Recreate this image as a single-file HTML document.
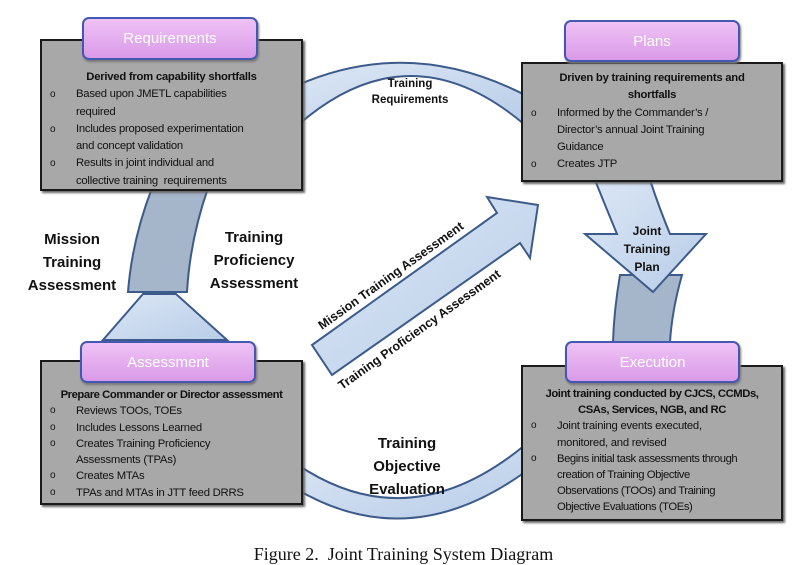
<!DOCTYPE html>
<html><head><meta charset="utf-8"><style>
body{margin:0;background:#fff;width:807px;height:564px;overflow:hidden;position:relative;font-family:"Liberation Sans",sans-serif}
.box{position:absolute;background:#a8a8a8;border:2px solid #1a1a1a;box-shadow:2px 2px 2px #666;box-sizing:border-box;color:#111;font-size:11.3px;letter-spacing:-0.25px;line-height:17.3px}
.pill{position:absolute;border:2px solid #4358b0;border-radius:7px;background:linear-gradient(#efc2f5,#d99ae8);color:#fff;font-size:15px;text-align:center;box-sizing:border-box;box-shadow:1px 2px 2px #777}
.t{font-weight:bold;text-align:center;white-space:nowrap}
.b{position:relative;padding-left:34px;white-space:nowrap}
.b:before{content:"o";position:absolute;left:8px;font-size:10px}
.lab{position:absolute;font-weight:bold;text-align:center;color:#111;white-space:nowrap}
</style></head><body>
<svg width="807" height="564" style="position:absolute;left:0;top:0">
<defs><linearGradient id="g" x1="0" y1="0" x2="1" y2="1"><stop offset="0" stop-color="#dce7f5"/><stop offset="1" stop-color="#b8cde8"/></linearGradient></defs>
<g stroke="#3d5b8a" stroke-width="2" stroke-linejoin="miter">
<path d="M298,85 Q410,36 525,95 L525,125 Q410,27 298,125 Z" fill="url(#g)"/>
<path d="M298,465 Q410,540 525,445 L525,472 Q410,555 298,490 Z" fill="url(#g)"/>
<path d="M152,188 Q132,240 128,292 L187,292 Q190,240 208,188 Z" fill="#a5b5ca"/>
<path d="M143,294 L176,294 L227,340 L103,340 Z" fill="url(#g)"/>
<path d="M620,275 L682,275 Q672,310 670,342 L613,342 Q614,310 620,275 Z" fill="#a5b5ca"/>
<path d="M595,180 L650,180 Q660,210 670,234 L706,234 L653,292 L585,234 L617,234 Q605,205 595,180 Z" fill="url(#g)"/>
<path d="M312,345 L497,213 L487,197 L538,205 L530,258 L520,243 L332,375 Z" fill="url(#g)"/>
</g>
<g font-family="Liberation Sans" font-weight="bold" font-size="12.5" fill="#111">
<text transform="translate(322,330) rotate(-35.6)">Mission Training Assessment</text>
<text transform="translate(342,390) rotate(-35.6)">Training Proficiency Assessment</text>
</g>
</svg>
<div class="box" style="left:40px;top:39px;width:263px;height:152px;padding-top:28px">
<div class="t">Derived from capability shortfalls</div>
<div class="b">Based upon JMETL capabilities<br>required</div>
<div class="b">Includes proposed experimentation<br>and concept validation</div>
<div class="b">Results in joint individual and<br>collective training&nbsp; requirements</div>
</div>
<div class="pill" style="left:82px;top:17px;width:176px;height:43px;line-height:40px">Requirements</div>
<div class="box" style="left:521px;top:62px;width:262px;height:120px;padding-top:6px">
<div class="t">Driven by training requirements and<br>shortfalls</div>
<div class="b">Informed by the Commander’s /<br>Director’s annual Joint Training<br>Guidance</div>
<div class="b">Creates JTP</div>
</div>
<div class="pill" style="left:564px;top:20px;width:176px;height:42px;line-height:39px">Plans</div>
<div class="box" style="left:40px;top:360px;width:263px;height:145px;padding-top:25px;line-height:16.3px">
<div class="t" style="letter-spacing:-0.45px">Prepare Commander or Director assessment</div>
<div class="b">Reviews TOOs, TOEs</div>
<div class="b">Includes Lessons Learned</div>
<div class="b">Creates Training Proficiency<br>Assessments (TPAs)</div>
<div class="b">Creates MTAs</div>
<div class="b">TPAs and MTAs in JTT feed DRRS</div>
</div>
<div class="pill" style="left:80px;top:341px;width:176px;height:42px;line-height:39px">Assessment</div>
<div class="box" style="left:521px;top:365px;width:262px;height:156px;padding-top:19px;line-height:16.2px">
<div class="t" style="letter-spacing:-0.45px">Joint training conducted by CJCS, CCMDs,<br>CSAs, Services, NGB, and RC</div>
<div class="b">Joint training events executed,<br>monitored, and revised</div>
<div class="b" style="letter-spacing:-0.45px">Begins initial task assessments through<br>creation of Training Objective<br>Observations (TOOs) and Training<br>Objective Evaluations (TOEs)</div>
</div>
<div class="pill" style="left:565px;top:341px;width:175px;height:42px;line-height:39px">Execution</div>
<div class="lab" style="left:360px;top:76px;width:100px;font-size:11.5px;line-height:16px">Training<br>Requirements</div>
<div class="lab" style="left:12px;top:228px;width:120px;font-size:15px;line-height:23px">Mission<br>Training<br>Assessment</div>
<div class="lab" style="left:194px;top:226px;width:120px;font-size:15px;line-height:23px">Training<br>Proficiency<br>Assessment</div>
<div class="lab" style="left:347px;top:432px;width:120px;font-size:15px;line-height:23px">Training<br>Objective<br>Evaluation</div>
<div class="lab" style="left:607px;top:222px;width:80px;font-size:12px;line-height:18px">Joint<br>Training<br>Plan</div>
<div style="position:absolute;left:0;width:807px;top:544px;text-align:center;font-family:'Liberation Serif',serif;font-size:18px;color:#111">Figure 2.&nbsp; Joint Training System Diagram</div>
</body></html>
